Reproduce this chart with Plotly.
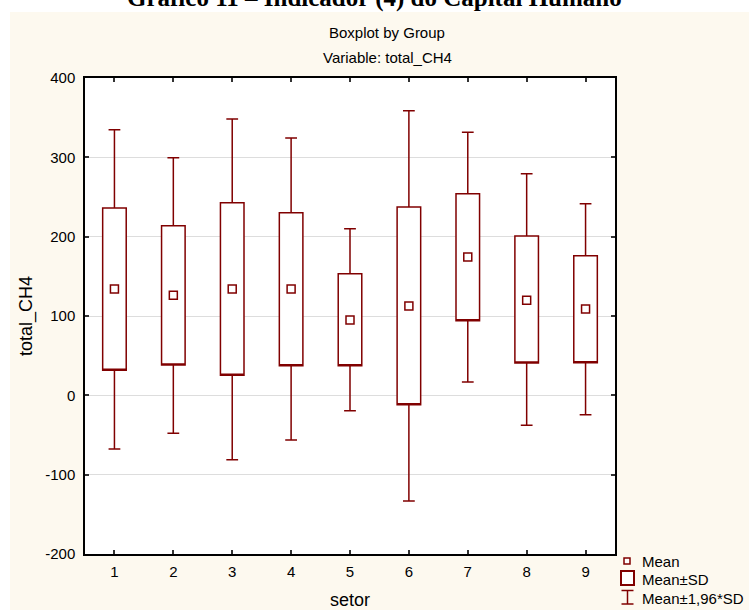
import plotly.graph_objects as go

# ---- data ----
setor = [1, 2, 3, 4, 5, 6, 7, 8, 9]
tick_labels = ["1", "2", "3", "4", "5", "6", "7", "8", "9"]
mean_vals = [134, 126, 134, 134, 95, 112.6, 174.3, 120, 108.8]
sd_hi = [236, 213.8, 242.8, 230.2, 153.3, 237.4, 254.1, 200.8, 176]      # Mean + SD
sd_lo = [31.5, 38.2, 25.2, 37.3, 37.3, -11.8, 94, 40.7, 41.1]             # Mean - SD
ci_hi = [334.8, 299.5, 348.3, 324.3, 210, 358.8, 331.5, 279.3, 241.5]    # Mean + 1.96*SD
ci_lo = [-67.7, -47.9, -81.2, -56.3, -19.4, -133.2, 16.8, -37.8, -24.4]  # Mean - 1.96*SD
y_ticks = [-200, -100, 0, 100, 200, 300, 400]
y_tick_labels = ["-200", "-100", "0", "100", "200", "300", "400"]

MAROON = "#800000"
CREAM = "#fdf9ef"
FONT = "Liberation Sans, Arial, sans-serif"

W, H = 749, 610
L, R, T, B = 85, 134, 78, 56
PW, PH = W - L - R, H - T - B
PLOT_BOTTOM = H - B


def px_x(X):
    return (X - L) / PW


def px_y(Y):
    return (PLOT_BOTTOM - Y) / PH


fig = go.Figure()

fig.add_trace(go.Box(
    x=setor,
    q1=sd_lo, median=sd_lo, q3=sd_hi,
    lowerfence=ci_lo, upperfence=ci_hi,
    width=0.4, whiskerwidth=0.5,
    fillcolor="white",
    line=dict(color=MAROON, width=1.5),
    boxpoints=False,
    showlegend=False,
    name="Mean±SD",
))

fig.add_trace(go.Scatter(
    x=setor, y=mean_vals, mode="markers",
    marker=dict(symbol="square", size=8, color="white",
                line=dict(color=MAROON, width=1.5)),
    showlegend=False, name="Mean",
))

shapes = [
    # white strips around the cream panel
    dict(type="rect", xref="paper", yref="paper", x0=px_x(-5), x1=px_x(W + 5),
         y0=px_y(12), y1=px_y(-5), fillcolor="white", line=dict(width=0), layer="below"),
    dict(type="rect", xref="paper", yref="paper", x0=px_x(-5), x1=px_x(10),
         y0=px_y(H + 5), y1=px_y(-5), fillcolor="white", line=dict(width=0), layer="below"),
    # legend symbols
    dict(type="rect", xref="paper", yref="paper", x0=px_x(624), x1=px_x(630),
         y0=px_y(564), y1=px_y(558), fillcolor="white", line=dict(color=MAROON, width=1.5)),
    dict(type="rect", xref="paper", yref="paper", x0=px_x(621), x1=px_x(634),
         y0=px_y(585), y1=px_y(571), fillcolor="white", line=dict(color=MAROON, width=2)),
    dict(type="line", xref="paper", yref="paper", x0=px_x(627.5), x1=px_x(627.5),
         y0=px_y(604), y1=px_y(590.5), line=dict(color=MAROON, width=1.5)),
    dict(type="line", xref="paper", yref="paper", x0=px_x(621.5), x1=px_x(633.5),
         y0=px_y(590.5), y1=px_y(590.5), line=dict(color=MAROON, width=1.5)),
    dict(type="line", xref="paper", yref="paper", x0=px_x(621.5), x1=px_x(633.5),
         y0=px_y(604), y1=px_y(604), line=dict(color=MAROON, width=1.5)),
]

annotations = [
    dict(text="<b>Gráfico 11 – Indicador (4) do Capital Humano</b>", xref="paper", yref="paper",
         x=px_x(374), y=px_y(-2), xanchor="center", yanchor="middle", showarrow=False,
         font=dict(family="Liberation Serif, Times New Roman, serif", size=25, color="black")),
    dict(text="Boxplot by Group", xref="paper", yref="paper",
         x=px_x(387), y=px_y(33), xanchor="center", yanchor="middle", showarrow=False,
         font=dict(family=FONT, size=15, color="black")),
    dict(text="Variable: total_CH4", xref="paper", yref="paper",
         x=px_x(387), y=px_y(58), xanchor="center", yanchor="middle", showarrow=False,
         font=dict(family=FONT, size=15, color="black")),
    dict(text="Mean", xref="paper", yref="paper", x=px_x(640), y=px_y(561),
         xanchor="left", yanchor="middle", showarrow=False, font=dict(family=FONT, size=15)),
    dict(text="Mean±SD", xref="paper", yref="paper", x=px_x(640), y=px_y(579),
         xanchor="left", yanchor="middle", showarrow=False, font=dict(family=FONT, size=15)),
    dict(text="Mean±1,96*SD", xref="paper", yref="paper", x=px_x(640), y=px_y(598),
         xanchor="left", yanchor="middle", showarrow=False, font=dict(family=FONT, size=15)),
]

fig.update_layout(
    width=W, height=H,
    margin=dict(l=L, r=R, t=T, b=B, autoexpand=False),
    paper_bgcolor=CREAM, plot_bgcolor="white",
    font=dict(family=FONT, size=15, color="black"),
    shapes=shapes, annotations=annotations,
    showlegend=False,
)

fig.update_xaxes(
    range=[0.5, 9.5], tickvals=setor, ticktext=tick_labels,
    ticks="inside", ticklen=4, tickcolor="#333", tickwidth=1.5,
    ticklabelstandoff=3,
    showline=True, linecolor="black", linewidth=1.5, mirror="ticks",
    showgrid=False, zeroline=False,
    title=dict(text="setor", standoff=19),
)
fig.update_yaxes(
    range=[-200, 400], tickvals=y_ticks, ticktext=y_tick_labels,
    ticks="inside", ticklen=4, tickcolor="#333", tickwidth=1.5,
    ticklabelstandoff=5,
    showline=True, linecolor="black", linewidth=1.5, mirror="ticks",
    showgrid=True, gridcolor="#dddddd", gridwidth=1, zeroline=False,
    title=dict(text="total_CH4", standoff=8),
)

fig.write_html(
    "out.html",
    config={"displayModeBar": False},
    post_script="document.body.style.margin='0';document.body.style.overflow='hidden';",
)
